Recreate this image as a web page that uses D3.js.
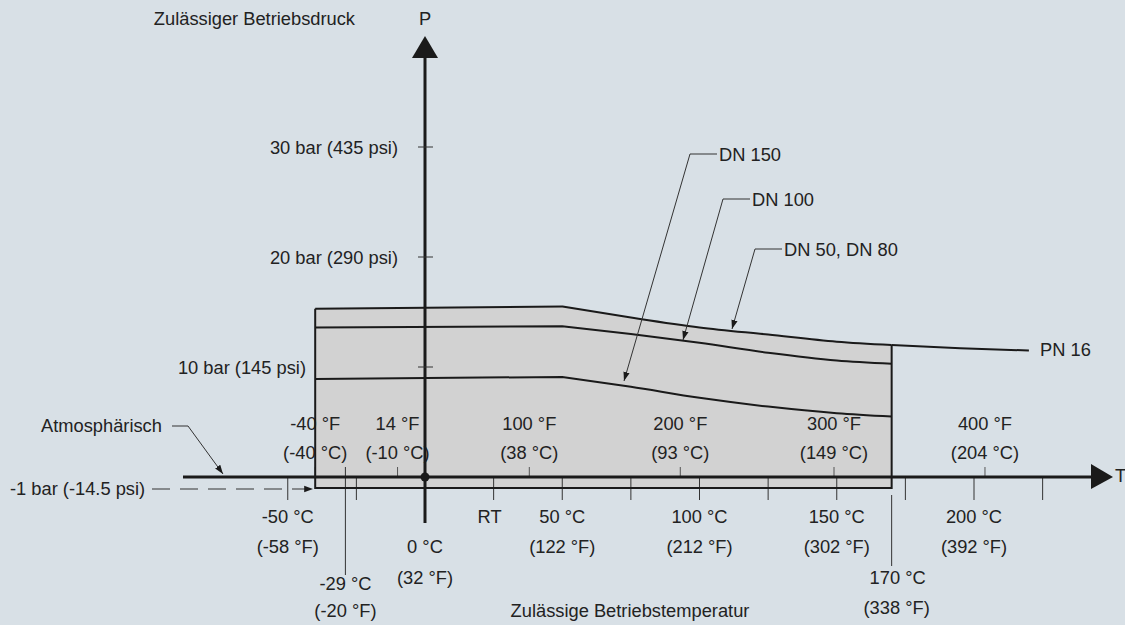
<!DOCTYPE html>
<html><head><meta charset="utf-8">
<script src="https://cdn.jsdelivr.net/npm/d3@7"></script>
<style>
html,body{margin:0;padding:0;background:#d8e0e6;}
svg{display:block;font-family:"Liberation Sans",Arial,sans-serif;}
text{fill:#222;font-size:18.3px;}
</style></head><body>
<svg id="c" width="1125" height="625"></svg>
<script>
// ---- data ----
const curveTemps = [-40, 50, 75, 100, 125, 150, 170];          // °C
const dn5080 = [15.3, 15.5, 14.5, 13.6, 12.95, 12.3, 12.0];     // bar
const dn100  = [13.6, 13.7, 13.0, 12.2, 11.3, 10.6, 10.3];
const dn150  = [8.9, 9.1, 8.2, 7.2, 6.4, 5.8, 5.5];
const pn16Temps = [170, 195, 220];
const pn16Vals  = [12.0, 11.7, 11.5];
const pTicks = [10, 20, 30];
const pTickLabels = ["10 bar (145 psi)", "20 bar (290 psi)", "30 bar (435 psi)"];
const fTicksC = [-40, -10, 38, 93, 149, 204];
const fTickLabels1 = ["-40 °F", "14 °F", "100 °F", "200 °F", "300 °F", "400 °F"];
const fTickLabels2 = ["(-40 °C)", "(-10 °C)", "(38 °C)", "(93 °C)", "(149 °C)", "(204 °C)"];
const cTicks = [-50, -25, 25, 50, 75, 100, 125, 150, 175, 200, 225];
const cLabelVals = [-50, 25, 50, 100, 150, 200];
const cLabels1 = ["-50 °C", "RT", "50 °C", "100 °C", "150 °C", "200 °C"];
const cLabels2 = ["(-58 °F)", "", "(122 °F)", "(212 °F)", "(302 °F)", "(392 °F)"];
const atmBar = -1;

// ---- scales ----
const x = d3.scaleLinear().domain([0, 200]).range([425, 974]);
const y = d3.scaleLinear().domain([0, 30]).range([477, 147]);

const svg = d3.select("#c");
const ink = "#1a1a1a";

const defs = svg.append("defs");
defs.append("marker").attr("id","arr").attr("viewBox","0 0 10 10")
  .attr("refX",10).attr("refY",5).attr("markerWidth",9).attr("markerHeight",9)
  .attr("markerUnits","userSpaceOnUse").attr("orient","auto")
  .append("path").attr("d","M0,1.5 L10,5 L0,8.5 Z").attr("fill",ink);

const pts = vals => curveTemps.map((t,i)=>[x(t), y(vals[i])]);
const mono = d3.line().curve(d3.curveMonotoneX);
// flat part straight, corner at 50 °C, smooth decline afterwards
const curvePath = vals => { const p = pts(vals); return `M${p[0]}L` + mono(p.slice(1)).slice(1); };

// shaded region
const topPts = pts(dn5080);
const areaPath = curvePath(dn5080) + `L${x(170)},${y(atmBar)}L${x(-40)},${y(atmBar)}Z`;
svg.append("path").attr("d", areaPath).attr("fill","#d2d2d2").attr("stroke","none");

// F ticks above axis
svg.append("g").selectAll("line").data(fTicksC).join("line")
  .attr("x1",d=>x(d)).attr("x2",d=>x(d)).attr("y1",y(0)-10).attr("y2",y(0))
  .attr("stroke","#555").attr("stroke-width",1);
svg.append("g").selectAll("text").data(fTicksC).join("text")
  .attr("x",d=>x(d)).attr("y",423).attr("text-anchor","middle").attr("dominant-baseline","central")
  .text((d,i)=>fTickLabels1[i]);
svg.append("g").selectAll("text").data(fTicksC).join("text")
  .attr("x",d=>x(d)).attr("y",452).attr("text-anchor","middle").attr("dominant-baseline","central")
  .text((d,i)=>fTickLabels2[i]);

// C ticks below axis
svg.append("g").selectAll("line").data(cTicks).join("line")
  .attr("x1",d=>x(d)).attr("x2",d=>x(d)).attr("y1",y(0)).attr("y2",y(0)+23)
  .attr("stroke","#333").attr("stroke-width",1);
svg.append("g").selectAll("text").data(cLabelVals).join("text")
  .attr("x",(d,i)=>x(d)+ (i===1? -4: 0)).attr("y",516).attr("text-anchor","middle").attr("dominant-baseline","central")
  .text((d,i)=>cLabels1[i]);
svg.append("g").selectAll("text").data(cLabelVals).join("text")
  .attr("x",d=>x(d)).attr("y",546).attr("text-anchor","middle").attr("dominant-baseline","central")
  .text((d,i)=>cLabels2[i]);

// 0 °C label
svg.append("text").attr("x",x(0)).attr("y",546).attr("text-anchor","middle").attr("dominant-baseline","central").text("0 °C");
svg.append("text").attr("x",x(0)).attr("y",577).attr("text-anchor","middle").attr("dominant-baseline","central").text("(32 °F)");
// -29 °C
svg.append("line").attr("x1",x(-29)).attr("x2",x(-29)).attr("y1",y(0)-10).attr("y2",575).attr("stroke","#333").attr("stroke-width",1);
svg.append("text").attr("x",x(-29)).attr("y",583).attr("text-anchor","middle").attr("dominant-baseline","central").text("-29 °C");
svg.append("text").attr("x",x(-29)).attr("y",610).attr("text-anchor","middle").attr("dominant-baseline","central").text("(-20 °F)");
// 170 °C
svg.append("line").attr("x1",x(170)).attr("x2",x(170)).attr("y1",495).attr("y2",566).attr("stroke","#333").attr("stroke-width",1);
svg.append("text").attr("x",x(170)+6).attr("y",577).attr("text-anchor","middle").attr("dominant-baseline","central").text("170 °C");
svg.append("text").attr("x",x(170)+5).attr("y",607).attr("text-anchor","middle").attr("dominant-baseline","central").text("(338 °F)");

// curves
[dn150, dn100, dn5080].forEach(v =>
  svg.append("path").attr("d",curvePath(v)).attr("fill","none").attr("stroke",ink).attr("stroke-width",2));
svg.append("path").attr("d",mono(pn16Temps.map((t,i)=>[x(t),y(pn16Vals[i])])))
  .attr("fill","none").attr("stroke",ink).attr("stroke-width",2);
// box sides & bottom
svg.append("path").attr("d",`M${x(-40)},${y(dn5080[0])}L${x(-40)},${y(atmBar)}L${x(170)},${y(atmBar)}L${x(170)},${y(dn5080[dn5080.length-1])}`)
  .attr("fill","none").attr("stroke",ink).attr("stroke-width",2);

// horizontal axis
svg.append("line").attr("x1",183).attr("x2",1095).attr("y1",y(0)).attr("y2",y(0)).attr("stroke",ink).attr("stroke-width",3);
svg.append("path").attr("d",`M1091,${y(0)-13}L1113,${y(0)}L1091,${y(0)+12}Z`).attr("fill",ink);
svg.append("text").attr("x",1115).attr("y",y(0)-2).attr("dominant-baseline","central").text("T");

// vertical axis
svg.append("line").attr("x1",x(0)).attr("x2",x(0)).attr("y1",523).attr("y2",55).attr("stroke",ink).attr("stroke-width",3);
svg.append("path").attr("d",`M${x(0)-13},58L${x(0)},36L${x(0)+13},58Z`).attr("fill",ink);
svg.append("text").attr("x",x(0)).attr("y",18).attr("text-anchor","middle").attr("dominant-baseline","central").text("P");
svg.append("text").attr("x",355).attr("y",18).attr("text-anchor","end").attr("dominant-baseline","central").text("Zulässiger Betriebsdruck");

// P ticks
svg.append("g").selectAll("line").data(pTicks).join("line")
  .attr("x1",x(0)-7).attr("x2",x(0)+8).attr("y1",d=>y(d)).attr("y2",d=>y(d))
  .attr("stroke","#333").attr("stroke-width",1);
svg.append("g").selectAll("text").data(pTicks).join("text")
  .attr("x",d=> d===10 ? 306 : 398).attr("y",d=>y(d)).attr("text-anchor","end").attr("dominant-baseline","central")
  .text((d,i)=>pTickLabels[i]);

// origin dot
svg.append("circle").attr("cx",x(0)).attr("cy",y(0)).attr("r",4.5).attr("fill",ink);

// -1 bar dashed
svg.append("text").attr("x",10).attr("y",y(atmBar)).attr("dominant-baseline","central").text("-1 bar (-14.5 psi)");
svg.append("line").attr("x1",152).attr("x2",x(-40)-2).attr("y1",y(atmBar)+1).attr("y2",y(atmBar)+1)
  .attr("stroke","#333").attr("stroke-width",1).attr("stroke-dasharray","18,10").attr("marker-end","url(#arr)");

// Atmosphärisch
svg.append("text").attr("x",41).attr("y",425).attr("dominant-baseline","central").text("Atmosphärisch");
svg.append("path").attr("d",`M172,426L188,426L223,${y(0)-3}`).attr("fill","none").attr("stroke","#333").attr("stroke-width",1).attr("marker-end","url(#arr)");

// leaders
function leader(lx, ly, tx, ty, label){
  svg.append("path").attr("d",`M${lx+27},${ly}L${lx},${ly}L${tx},${ty}`)
    .attr("fill","none").attr("stroke","#333").attr("stroke-width",1).attr("marker-end","url(#arr)");
  svg.append("text").attr("x",lx+29).attr("y",ly).attr("dominant-baseline","central").text(label);
}
leader(690,154, 624, 381, "DN 150");
leader(723,199, 683, 340, "DN 100");
leader(755,249, 732, 329, "DN 50, DN 80");

svg.append("text").attr("x",1040).attr("y",349).attr("dominant-baseline","central").text("PN 16");
svg.append("text").attr("x",630).attr("y",610).attr("text-anchor","middle").attr("dominant-baseline","central").text("Zulässige Betriebstemperatur");
</script></body></html>
